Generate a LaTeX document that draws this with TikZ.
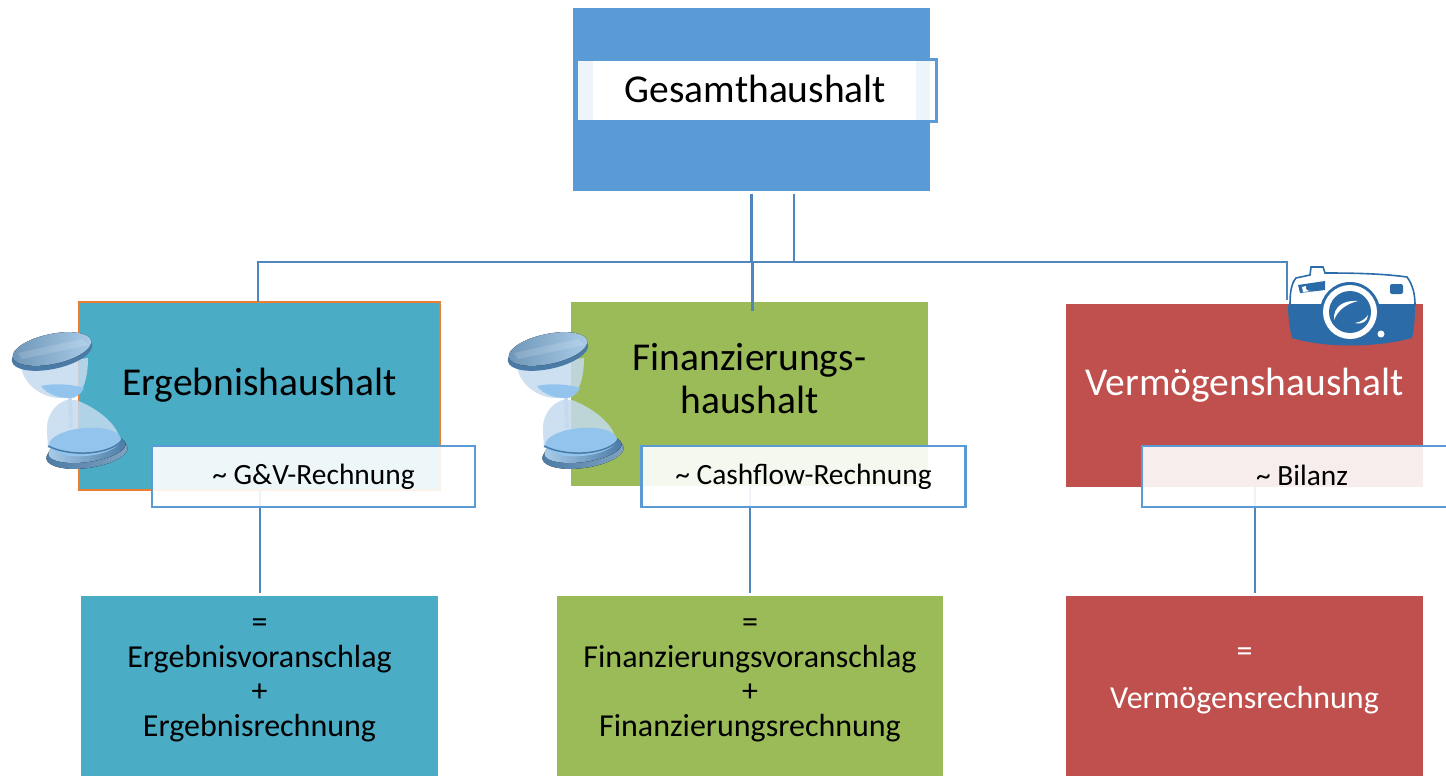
\documentclass[tikz,border=0pt]{standalone}
\usepackage{fontspec}
\setmainfont{Carlito}
\usetikzlibrary{calc}
\definecolor{topblue}{HTML}{5B9BD5}
\definecolor{tealbox}{HTML}{4BACC6}
\definecolor{leaf}{HTML}{9BBB59}
\definecolor{brick}{HTML}{C0504D}
\definecolor{rim}{HTML}{ED7D31}
\definecolor{wire}{HTML}{4F86BC}
\definecolor{cam}{HTML}{2B6CA8}
\definecolor{glassa}{HTML}{C4DAEE}
\definecolor{glassb}{HTML}{93C4EE}
\definecolor{disca}{HTML}{4A7BA6}
\definecolor{discb}{HTML}{A9CCE8}
\tikzset{
  x=1pt,y=-1pt,
  rect/.style={draw=none,inner sep=0pt,outer sep=0pt},
  wirel/.style={draw=wire,line width=2.8pt},
  tag/.style={draw=topblue,line width=2.4pt,fill=white,fill opacity=0.9,text opacity=1,inner sep=0pt,outer sep=0pt,font=\fontsize{29.4}{32}\selectfont},
  head/.style={font=\fontsize{39.5}{43}\selectfont,align=center},
  sub/.style={font=\fontsize{32}{34.5}\selectfont,align=center},
  pics/hourglass/.style={code={
    % bottom disc rim
    \fill[left color=disca,right color=disca!70!white] (35,103) ellipse [x radius=41,y radius=15,rotate=8];
    \fill[left color=discb,right color=disca] (35,99) ellipse [x radius=39,y radius=13,rotate=8];
    % glass
    \fill[glassa,fill opacity=.85] (-31,16) .. controls (-28,38) and (-5,50) .. (14,48) -- (22,48) .. controls (30,44) and (36,30) .. (36,8) -- cycle;
    \fill[glassa,fill opacity=.85] (14,50) .. controls (0,56) and (-6,68) .. (-5,82) -- (-4,98) -- (68,92) .. controls (68,78) and (50,60) .. (24,50) -- cycle;
    % sand
    \fill[glassb] (-11,36) .. controls (2,33) and (20,34) .. (32,38) .. controls (28,46) and (22,48) .. (18,48) .. controls (5,48) and (-5,44) .. (-11,36) -- cycle;
    \fill[glassb] (33,92) ellipse [x radius=36,y radius=14,rotate=5];
    \draw[glassa,line width=4pt] (18,48) -- (19,78);
    \draw[disca,line width=1.5pt] (-4,96) .. controls (20,108) and (60,104) .. (70,90);
    % top disc
    \fill[disca] (0,3) ellipse [x radius=41,y radius=16,rotate=12];
    \fill[left color=disca!80!white,right color=discb] (0,-1) ellipse [x radius=40,y radius=15,rotate=12];
    \fill[white,fill opacity=.14] (-34,3) -- (30,-11) -- (37,-5) -- (-30,9) -- cycle;
  }},
}
\begin{document}
\begin{tikzpicture}
\useasboundingbox (0,0) rectangle (1446,776);
% boxes
\node[rect,fill=topblue,minimum width=357pt,minimum height=183pt] (top) at (751.5,99.5) {};
\node[rect,fill=tealbox,draw=rim,line width=2.6pt,minimum width=361pt,minimum height=188pt] (erg) at (259.5,396) {};
\node[rect,fill=leaf,minimum width=357pt,minimum height=184pt] (fin) at (749.5,394) {};
\node[rect,fill=brick,minimum width=357pt,minimum height=183pt] (ver) at (1244.5,395.5) {};
\node[rect,fill=tealbox,minimum width=357pt,minimum height=180pt] (erg2) at (259.5,686) {};
\node[rect,fill=leaf,minimum width=386pt,minimum height=180pt] (fin2) at (750,686) {};
\node[rect,fill=brick,minimum width=357pt,minimum height=180pt] (ver2) at (1244.5,686) {};
% free ends of connectors
\coordinate (a1) at (751.5,194);
\coordinate (a2) at (794,194);
\coordinate (bus) at (794,262);
\coordinate (e1) at (258,262);
\coordinate (v1) at (1287,262);
\coordinate (v2) at (1287,300);
\coordinate (f1) at (752.5,311);
\coordinate (j1) at (752.5,262);
\coordinate (e3) at (260,593);
\coordinate (f3) at (750,593);
\coordinate (v3) at (1255,593);
\coordinate (e4) at (260,490);
\coordinate (f4) at (750,486);
\coordinate (v4) at (1255,487);
% connectors
\draw[wirel] (a1) -- (a1 |- j1);
\draw[wirel] (j1) -- (f1);
\draw[wirel] (a2) -- (bus);
\draw[wirel] (erg.north -| e1) -- (e1) -- (v1) -- (v2);
\draw[wirel] (e4) -- (e3);
\draw[wirel] (f4) -- (f3);
\draw[wirel] (v4) -- (v3);
% tags
\node[tag,minimum width=360pt,minimum height=62pt] (ttop) at (756.5,90.5) {};
\fill[white] (ttop.south west) ++(16,-1.2) rectangle ($(ttop.north east)+(-21,1.2)$);
\node[font=\fontsize{39.5}{40}\selectfont] (ttext) at (755.5,89) {Gesamthaushalt};
\node[tag,minimum width=323pt,minimum height=61pt] (terg) at (313.5,476.5) {\textasciitilde{} G\&V-Rechnung};
\node[tag,minimum width=324pt,minimum height=61pt] (tfin) at (803.5,476.5) {\textasciitilde{} Cashflow-Rechnung};
\node[tag,minimum width=320pt,minimum height=61pt] (tver) at (1302,476.5) {\raisebox{2pt}{\textasciitilde{} Bilanz}};
% titles
\node[head,text=black] (terg1) at (259.5,385) {Ergebnishaushalt};
\node[head,text=black] (tfin1) at (749.5,379) {Finanzierungs-\\haushalt};
\node[head,text=white] (tver1) at (1244.5,385) {Vermögenshaushalt};
\node[sub,text=black] (terg2) at (259.5,680.5) {=\\Ergebnisvoranschlag\\+\\Ergebnisrechnung};
\node[sub,text=black] (tfin2) at (750,680.5) {=\\Finanzierungsvoranschlag\\+\\Finanzierungsrechnung};
\node[sub,text=white] (tver2) at (1244.5,681) {=\\[12pt]Vermögensrechnung};
% hourglasses
\pic at (52,350) {hourglass};
\pic at (548,350) {hourglass};
% camera
\path[fill=white,draw=cam,line width=1.6pt] (1290,305) .. controls (1290,293) and (1291,284) .. (1296,278)
  -- (1310,275) -- (1311,267) -- (1323,267) -- (1325,273) .. controls (1360,273) and (1385,274) .. (1407,277)
  .. controls (1413,285) and (1415,295) .. (1415,305) -- cycle;
\fill[cam] (1288,305) -- (1415,305) .. controls (1415,320) and (1414,330) .. (1412,338)
  .. controls (1375,348) and (1325,348) .. (1292,338) .. controls (1290,330) and (1288,318) .. (1288,305) -- cycle;
\fill[cam] (1298,285) -- (1325,281) -- (1325,290) -- (1300,293) -- cycle;
\fill[white] (1302,287) -- (1306,286) .. controls (1305,290) and (1308,291) .. (1311,291) -- (1303,292) -- cycle;
\fill[cam,rounded corners=2pt] (1390,284) rectangle (1403,294);
\fill[cam] (1350,312) circle (30);
\fill[white] (1350,312) circle (27);
\fill[cam] (1350,312) circle (21);
\fill[white] (1334,320) .. controls (1333,306) and (1344,300) .. (1358,301) .. controls (1346,304) and (1338,310) .. (1334,320) -- cycle;
\fill[white] (1355,323) .. controls (1362,322) and (1366,318) .. (1368,315) .. controls (1368,321) and (1362,325) .. (1355,323) -- cycle;
\fill[white] (1381,334) circle (3.5);
\end{tikzpicture}
\end{document}
